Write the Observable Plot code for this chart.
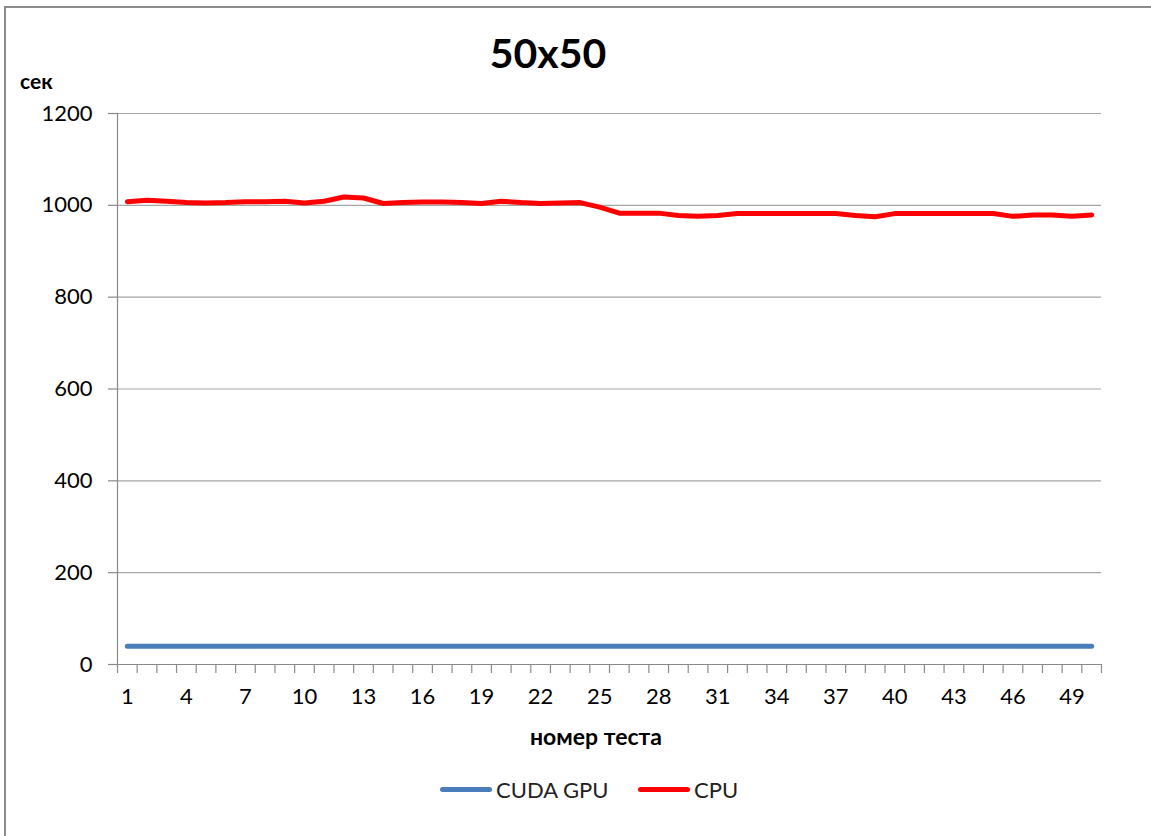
<!DOCTYPE html>
<html>
<head>
<meta charset="utf-8">
<script src="https://cdn.jsdelivr.net/npm/d3@7"></script>
<script src="https://cdn.jsdelivr.net/npm/@observablehq/plot@0.6"></script>
<style>
  html, body { margin: 0; padding: 0; background: #fff; }
  body { width: 1151px; height: 836px; position: relative; overflow: hidden; font-family: Lato, "Open Sans", sans-serif; color: #000; }
  #frame { position: absolute; left: 4px; top: 6px; width: 1200px; height: 900px; border-left: 2.5px solid #8c8c8c; border-top: 2.5px solid #8c8c8c; }
  #title { position: absolute; left: 0; width: 1096px; top: 28px; text-align: center; font-weight: bold; font-size: 41px; }
  #ylabel { position: absolute; left: 20px; top: 68px; font-weight: bold; font-size: 21px; }
  #chart { position: absolute; left: 0; top: 70px; }
  #legend { position: absolute; top: 774px; left: 0; width: 1151px; height: 30px; font-size: 22px; color: #222; }
  .item { position: absolute; top: 0; display: flex; align-items: center; height: 30px; }
  .swatch { width: 52px; height: 5px; border-radius: 3px; margin-right: 4px; }
  #xlabel { position: absolute; top: 722px; left: 0; width: 1192px; text-align: center; font-weight: bold; font-size: 23px; }
</style>
</head>
<body>
<div id="frame"></div>
<div id="title">50x50</div>
<div id="chart"></div>
<div id="ylabel">сек</div>
<div id="xlabel">номер теста</div>
<div id="legend"></div>
<script>
// Test numbers 1..50
const tests = d3.range(1, 51);

// Run time, seconds, per test
const gpuTimes = [
  40, 40, 40, 40, 40, 40, 40, 40, 40, 40,
  40, 40, 40, 40, 40, 40, 40, 40, 40, 40,
  40, 40, 40, 40, 40, 40, 40, 40, 40, 40,
  40, 40, 40, 40, 40, 40, 40, 40, 40, 40,
  40, 40, 40, 40, 40, 40, 40, 40, 40, 40
];
const cpuTimes = [
  1008, 1011, 1009, 1006, 1005, 1006, 1008, 1008, 1009, 1005,
  1009, 1018, 1016, 1004, 1006, 1007, 1007, 1006, 1004, 1009,
  1006, 1004, 1005, 1006, 996, 983, 983, 983, 978, 976,
  978, 982, 982, 982, 982, 982, 982, 978, 975, 982,
  982, 982, 982, 982, 982, 976, 979, 979, 976, 979
];

const seriesNames = ["CUDA GPU", "CPU"];
const seriesColors = ["#4a7ebb", "#ff0000"];

const yTicks = [0, 200, 400, 600, 800, 1000, 1200];
const xTickLabels = [1, 4, 7, 10, 13, 16, 19, 22, 25, 28, 31, 34, 37, 40, 43, 46, 49];

const rows = [
  ...tests.map((t, i) => ({test: t, time: gpuTimes[i], series: seriesNames[0]})),
  ...tests.map((t, i) => ({test: t, time: cpuTimes[i], series: seriesNames[1]}))
];

const axisGray = "#8a8a8a";
const boundaries = d3.range(0.5, tests.length + 1, 1);

const chart = Plot.plot({
  width: 1151,
  height: 690,
  marginLeft: 117,
  marginRight: 50,
  marginTop: 43,
  marginBottom: 96,
  style: {fontFamily: "Lato, 'Open Sans', sans-serif", fontSize: "22px", color: "#000", background: "transparent"},
  x: {domain: [0.5, tests.length + 0.5]},
  y: {domain: [0, 1200]},
  color: {domain: seriesNames, range: seriesColors},
  marks: [
    // horizontal gridlines
    Plot.ruleY(yTicks.filter(d => d > 0), {stroke: "#a6a6a6", strokeWidth: 1.2}),
    // y axis with outward ticks
    Plot.axisY({ticks: yTicks, tickSize: 9, tickPadding: 16, tickFormat: d => String(d), stroke: axisGray, strokeWidth: 1.2, label: null}),
    Plot.ruleX([0.5], {stroke: axisGray, strokeWidth: 1.2}),
    // x axis baseline, extended by the 0 tick
    Plot.ruleY([0], {stroke: axisGray, strokeWidth: 1.2, insetLeft: -9}),
    // category boundary tick marks
    Plot.axisX({ticks: boundaries, tickSize: 9, tickFormat: () => "", stroke: axisGray, strokeWidth: 1.2, label: null}),
    // tick labels every third test
    Plot.axisX({ticks: xTickLabels, tickSize: 0, tickPadding: 24, tickFormat: d => String(d), label: null}),
    Plot.line(rows, {x: "test", y: "time", z: "series", stroke: "series", strokeWidth: 5, strokeLinejoin: "round", strokeLinecap: "round"})
  ]
});

document.getElementById("chart").append(chart);

// legend below the plot
const legend = document.getElementById("legend");
const legendX = [440, 638];
seriesNames.forEach((name, i) => {
  const item = document.createElement("div");
  item.className = "item";
  item.style.left = legendX[i] + "px";
  const sw = document.createElement("div");
  sw.className = "swatch";
  sw.style.background = seriesColors[i];
  const label = document.createElement("span");
  label.textContent = name;
  item.append(sw, label);
  legend.append(item);
});
</script>
</body>
</html>
